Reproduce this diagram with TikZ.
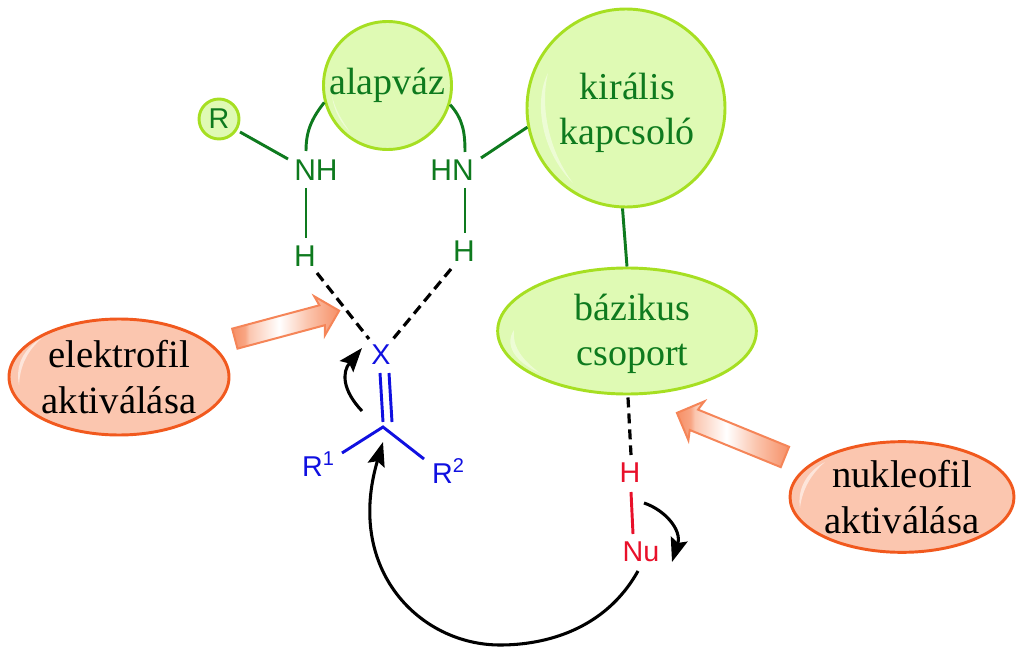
\documentclass[tikz,border=0pt]{standalone}
\usepackage{fontspec}
\setmainfont[Ligatures=NoCommon]{Liberation Serif}
\setsansfont{Liberation Sans}
\definecolor{lime}{HTML}{A6DF22}
\definecolor{limefill}{HTML}{DFFAB4}
\definecolor{peel}{HTML}{F1591E}
\definecolor{peelfill}{HTML}{FBC6AF}
\definecolor{leaf}{HTML}{0E7A1E}
\definecolor{blu}{HTML}{1010E0}
\definecolor{rd}{HTML}{E8102A}
\usepackage{tikz}
\usetikzlibrary{arrows.meta,shapes.geometric,shapes.arrows}
\pgfdeclarehorizontalshading{elshade}{100bp}{color(0bp)=(peelfill!50!peel); color(25bp)=(peelfill!50!peel); color(31bp)=(peelfill!70!peel); color(33bp)=(peelfill); color(47bp)=(white); color(60bp)=(peelfill); color(75bp)=(peelfill!50!peel); color(100bp)=(peelfill!50!peel)}
\newcommand{\sups}[1]{\raisebox{8pt}{\fontsize{15}{15}\selectfont #1}}
\tikzset{
  x=0.75pt,y=-0.75pt,
  >={Stealth[length=18pt,width=13pt,inset=3pt]},
  blob/.style={draw=lime,fill=limefill,line width=2.2pt,inner sep=0pt,align=center,text=leaf,
    font=\fontsize{28.5}{34}\selectfont},
  txt/.style={inner sep=0pt,align=center,text=leaf,font=\fontsize{28.5}{33.5}\selectfont},
  rblob/.style={ellipse,draw=peel,fill=peelfill,line width=2.2pt,inner sep=0pt,align=center,text=black,
    font=\fontsize{29}{34}\selectfont},
  lab/.style={inner sep=0pt,font=\sffamily\fontsize{21.5}{24}\selectfont},
  glab/.style={lab,text=leaf,font=\sffamily\fontsize{22.5}{24}\selectfont},
  bond/.style={draw=leaf,line width=2.2pt},
  bbond/.style={draw=blu,line width=2.2pt},
  hbond/.style={draw=black,line width=2.4pt,dash pattern=on 7.5pt off 4.5pt},
  curly/.style={->,draw=black,line width=2.3pt},
  bigarr/.style={single arrow,draw=peel!60!peelfill,line width=1.5pt,shading=elshade,inner sep=0pt,
    single arrow head extend=7.5pt,single arrow head indent=2pt,minimum height=81pt},
  shine/.style={fill=white,opacity=.55},
}
\begin{document}
\begin{tikzpicture}
\useasboundingbox (0,0) rectangle (1024,652);
\node[blob,circle,minimum size=96pt] (alap) at (387.5,85.5) {alapváz};
\node[blob,circle,minimum size=148.5pt,label={[txt,xshift=1pt,yshift=-3.4pt]center:{királis\\kapcsoló}}] (kir) at (626,108) {};
\node[blob,ellipse,minimum width=194pt,minimum height=94.5pt,label={[txt,xshift=4.2pt,yshift=-2pt]center:{bázikus\\csoport}}] (baz) at (627,331) {};
\node[blob,circle,minimum size=30pt,font=\sffamily\fontsize{21.5}{24}\selectfont] (r) at (219,119) {R};
\node[rblob,minimum width=165pt,minimum height=87pt] (el) at (119,377) {elektrofil\\aktiválása};
\node[rblob,minimum width=168pt,minimum height=83pt] (nu) at (902,497) {nukleofil\\aktiválása};
% highlights
\fill[shine] (42,338) .. controls (24,348) and (15,365) .. (19,385) .. controls (20,365) and (28,350) .. (42,338);
\fill[shine] (825,462) .. controls (806,472) and (797,490) .. (800,508) .. controls (802,490) and (811,474) .. (825,462);
\fill[shine,opacity=.45] (332,96) .. controls (334,112) and (342,124) .. (350,132) .. controls (340,118) and (335,108) .. (332,96);
\fill[shine,opacity=.45] (548,73) .. controls (534,100) and (540,150) .. (573,183) .. controls (548,150) and (540,105) .. (548,73);
\fill[shine,opacity=.45] (514,330) .. controls (504,345) and (515,362) .. (540,373) .. controls (522,360) and (512,346) .. (514,330);
\node[glab] (nh) at (316,170) {NH};
\node[glab] (hn) at (452,170) {HN};
\node[glab] (h1) at (305,256) {H};
\node[glab] (h2) at (464,251) {H};
\node[lab,text=blu] (xx) at (381,355) {X};
\coordinate (cc) at (383,427);
\node[lab,text=blu] (r1) at (318,464) {R\sups{1}};
\node[lab,text=blu] (r2) at (448,471) {R\sups{2}};
\node[lab,text=rd] (hh) at (630,473) {H};
\node[lab,text=rd] (nuc) at (641,552) {Nu};
% green bonds
\draw[bond] ([shift={(21,13)}]r.center) -- ([shift={(-28,-11)}]nh.center);
\draw[bond] (alap.195) to[out=232,in=90] ([shift={(-10,-19)}]nh.center);
\draw[bond] (alap.343) to[out=-48,in=90] ([shift={(13,-18)}]hn.center);
\draw[bond] ([shift={(29,-12)}]hn.center) -- (kir.191);
\draw[bond] ([shift={(-10,18)}]nh.center) -- ([shift={(1,-18)}]h1.center);
\draw[bond] ([shift={(13,18)}]hn.center) -- ([shift={(1,-18)}]h2.center);
\draw[bond] (kir.268) -- (baz.north);
% dashed
\draw[hbond] ([shift={(12,17)}]h1.center) -- ([shift={(-12,-16)}]xx.center);
\draw[hbond] ([shift={(-13,18)}]h2.center) -- ([shift={(12,-16)}]xx.center);
\draw[hbond] ([shift={(1,2)}]baz.south) -- ([shift={(1,-18)}]hh.center);
% substrate
\draw[bbond] ([shift={(-1,18)}]xx.center) -- ([shift={(0,-5)}]cc);
\draw[bbond] ([shift={(8,18)}]xx.center) -- ([shift={(9,-5)}]cc);
\draw[bbond] ([shift={(24,-11)}]r1.center) -- (cc) -- ([shift={(-24,-12)}]r2.center);
\draw[draw=rd,line width=2.2pt] ([shift={(1,19)}]hh.center) -- ([shift={(-8,-18)}]nuc.center);
% curly arrows
\draw[curly] ([shift={(-21,-16)}]cc) .. controls (342,390) and (342,372) .. ([shift={(-19,-7)}]xx.center);
\draw[curly] ([shift={(14,30)}]hh.center) .. controls (665,510) and (682,530) .. ([shift={(31,10)}]nuc.center);
\draw[curly] ([shift={(-3,19)}]nuc.center) .. controls (605,630) and (545,645) .. (500,645) .. controls (420,645) and (345,570) .. ([shift={(0,15)}]cc);
% block arrows
\node[bigarr,rotate=15] (arrel) at (282,326) {\rule{0pt}{14pt}};
\node[bigarr,rotate=157.8,minimum height=87.5pt] (arrnu) at (736,437) {\rule{0pt}{15pt}};
\end{tikzpicture}
\end{document}
